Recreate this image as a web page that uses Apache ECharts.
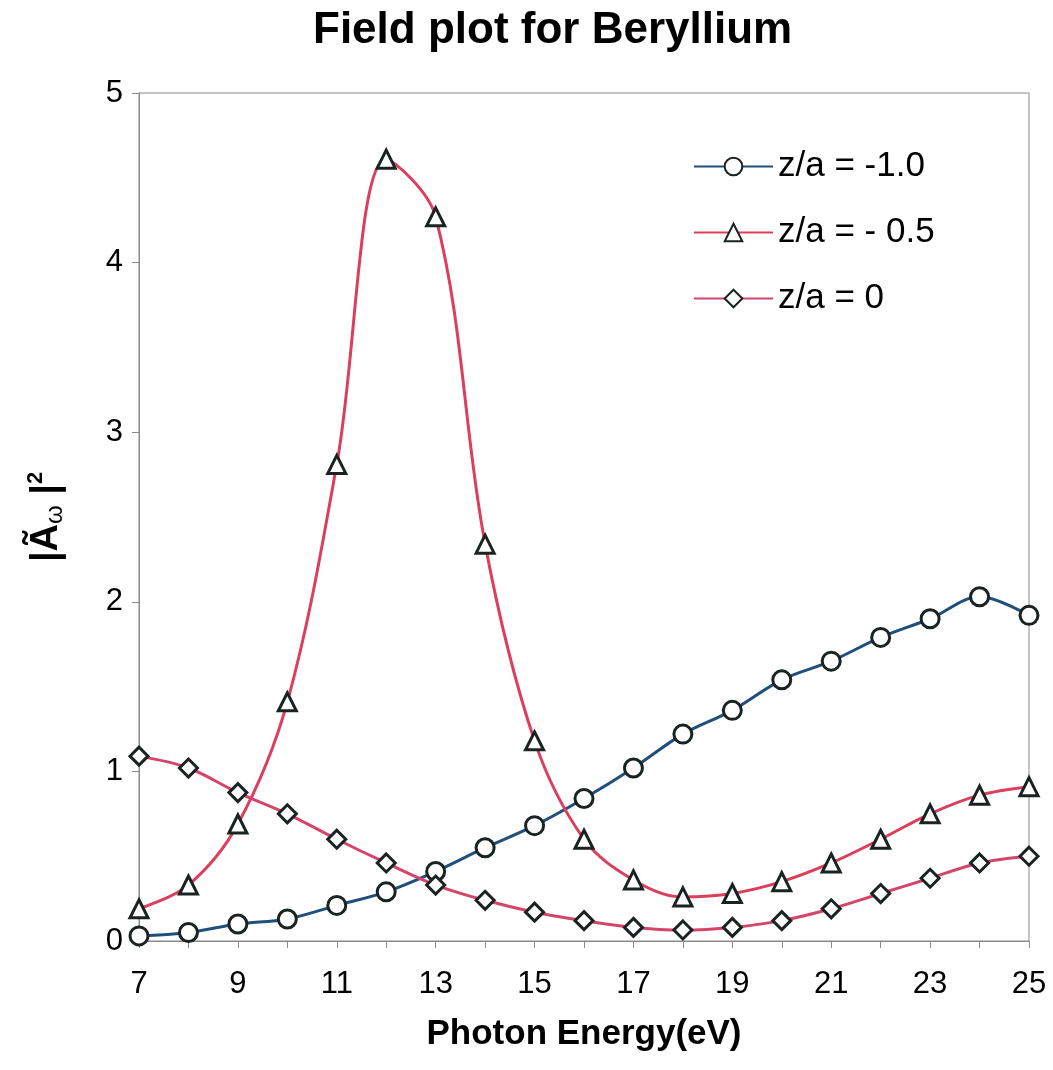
<!DOCTYPE html>
<html><head><meta charset="utf-8">
<script src="https://cdn.jsdelivr.net/npm/echarts@6/dist/echarts.min.js"></script>
<style>html,body{margin:0;padding:0;background:#fff}#c{width:1053px;height:1070px}</style>
</head><body><div id="c"></div>
<script>
const energies = ['7','8','9','10','11','12','13','14','15','16','17','18','19','20','21','22','23','24','25'];
const yTickLabels = ['0','1','2','3','4','5'];
const seriesNames = ['z/a = -1.0', 'z/a = - 0.5', 'z/a = 0'];
const zaMinus10 = [0.03,0.05,0.10,0.13,0.21,0.29,0.41,0.55,0.68,0.84,1.02,1.22,1.36,1.54,1.65,1.79,1.90,2.03,1.92];
const zaMinus05 = [0.19,0.33,0.69,1.41,2.81,4.61,4.27,2.34,1.18,0.60,0.36,0.26,0.28,0.35,0.46,0.60,0.75,0.86,0.91];
const za0 = [1.09,1.02,0.875,0.75,0.60,0.46,0.33,0.24,0.17,0.12,0.08,0.065,0.08,0.12,0.19,0.28,0.37,0.46,0.50];
const titleText = 'Field plot for Beryllium';
const xName = 'Photon Energy(eV)';

const FONT = '"Liberation Sans", Arial, sans-serif';
const chart = echarts.init(document.getElementById('c'), null, {renderer: 'canvas'});
const markerStyle = {color: '#ffffff', borderColor: '#1b2222', borderWidth: 3};
function mk(name, data, symbol, color) {
  return {
    name: name, type: 'line', data: data, smooth: 0.35,
    symbol: symbol, symbolSize: 18,
    lineStyle: {color: color, width: 3},
    itemStyle: Object.assign({}, markerStyle),
    emphasis: {disabled: true}
  };
}
chart.setOption({
  animation: false,
  backgroundColor: '#ffffff',
  title: {
    text: titleText, left: 313, top: 9, padding: 0,
    textStyle: {fontFamily: FONT, fontSize: 44, fontWeight: 'bold', color: '#000'}
  },
  legend: {
    left: 693, top: 149, orient: 'vertical', itemWidth: 79, itemHeight: 22, itemGap: 31,
    padding: 0,
    textStyle: {fontFamily: FONT, fontSize: 35, color: '#000'},
    data: seriesNames
  },
  grid: {left: 139, right: 24, top: 93, bottom: 129, show: true, borderColor: '#8a8a8a', borderWidth: 1, backgroundColor: 'transparent'},
  xAxis: {
    type: 'category', data: energies, boundaryGap: false,
    name: xName, nameLocation: 'middle', nameGap: 76,
    nameTextStyle: {fontFamily: FONT, fontSize: 35, fontWeight: 'bold', color: '#000'},
    axisLine: {lineStyle: {color: '#8a8a8a', width: 1}},
    axisTick: {show: true, interval: 0, length: 7, lineStyle: {color: '#8a8a8a'}},
    axisLabel: {interval: 1, margin: 28, fontFamily: FONT, fontSize: 31, color: '#000'},
    splitLine: {show: false}
  },
  yAxis: {
    type: 'value', min: 0, max: 5, interval: 1,
    name: '{b||}{a|Ã}{s|ω}{b| |}{p|2}', nameLocation: 'middle', nameGap: 70, nameRotate: 90,
    nameTextStyle: {
      color: '#000',
      rich: {
        b: {fontFamily: FONT, fontSize: 38, fontWeight: 'bold', color: '#000', lineHeight: 44, verticalAlign: 'middle'},
        a: {fontFamily: FONT, fontSize: 38, fontWeight: 'bold', color: '#000', lineHeight: 44, verticalAlign: 'middle'},
        s: {fontFamily: FONT, fontSize: 24, color: '#000', lineHeight: 44, verticalAlign: 'bottom', padding: [0,0,2,0]},
        p: {fontFamily: FONT, fontSize: 22, fontWeight: 'bold', color: '#000', lineHeight: 44, verticalAlign: 'top'}
      }
    },
    axisLine: {show: true, lineStyle: {color: '#8a8a8a', width: 1}},
    axisTick: {show: true, length: 7, lineStyle: {color: '#8a8a8a'}},
    axisLabel: {margin: 16, fontFamily: FONT, fontSize: 31, color: '#000',
      formatter: function (v) { return yTickLabels[Math.round(v)]; }},
    splitLine: {show: false}
  },
  series: [
    mk(seriesNames[0], zaMinus10, 'circle', '#1f4f7a'),
    mk(seriesNames[1], zaMinus05, 'triangle', '#dc3f5c'),
    mk(seriesNames[2], za0, 'diamond', '#d4456c')
  ]
});
</script></body></html>
